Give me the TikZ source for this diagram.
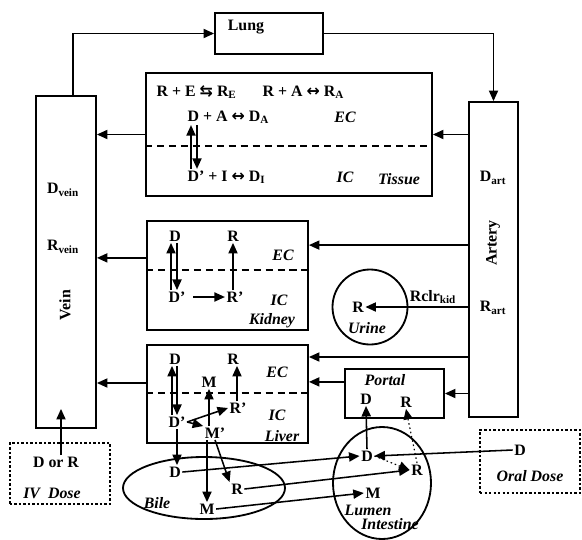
\documentclass[tikz,border=0pt]{standalone}
\usepackage{fontspec}
\setmainfont{Liberation Serif}
\newfontfamily\arrowfont{DejaVu Sans}
\usetikzlibrary{arrows.meta, positioning, shapes.geometric}

\begin{document}
\begin{tikzpicture}[
      x=0.25mm, y=-0.25mm,
      font=\fontsize{11.3}{13}\selectfont\bfseries,
      box/.style 2 args={draw, line width=1.3pt, minimum width=#1*0.25mm,
                         minimum height=#2*0.25mm, inner sep=0pt},
      dose/.style 2 args={box={#1}{#2}, line width=1.8pt, dash pattern=on 1.7pt off 1.5pt},
      pool/.style={draw, line width=1.3pt, inner sep=0pt},
      lbl/.style={inner sep=1pt},
      tag/.style={inner sep=1pt, font=\fontsize{11.3}{13}\selectfont\bfseries\itshape},
      arr/.style={-{Triangle[length=7.5pt, width=6.5pt]}, line width=1.1pt},
      dotarr/.style={arr, dotted, line width=0.8pt},
      split/.style={line width=1.3pt, dash pattern=on 5pt off 3.5pt},
    ]
    \useasboundingbox (0,0) rectangle (582,539);

    % compartments (coordinates in pixels of the 582x539 frame, y downwards)
    \node[box={108}{41}] (lung) at (269,33.5) {};
    \node[box={60}{332}] (vein) at (66,262) {};
    \node[box={49}{315}] (artery) at (493.5,259.5) {};
    \node[box={286}{123}] (tissue) at (289,134.5) {};
    \node[box={161}{109}] (kidney) at (227.5,275.5) {};
    \node[box={161}{98}] (liver) at (227.5,394) {};
    \node[box={99}{49}] (portal) at (394.5,393.5) {};
    \node[pool, circle, minimum size=75*0.25mm] (urine) at (370,307) {};
    \node[pool, ellipse, minimum width=162*0.25mm, minimum height=62*0.25mm] (bile) at (204,488) {};
    \node[pool, ellipse, minimum width=98*0.25mm, minimum height=112*0.25mm] (gut) at (382,483) {};
    \node[dose={100}{61}] (ivdose) at (60,473.5) {};
    \node[dose={100}{63}] (oraldose) at (530,461.5) {};

    % EC / IC border
    \foreach \c/\y in {tissue/146, kidney/270, liver/393}
      \draw[split] (\c.west |- 0,\y) -- (\c.east |- 0,\y);

    % names
    \node[lbl] (lungname) at (246,27) {Lung};
    \node[lbl] (dvein) at (63,190) {D\textsubscript{vein}};
    \node[lbl] (rvein) at (63,247) {R\textsubscript{vein}};
    \node[lbl, rotate=90] (veinname) at (65,305) {Vein};
    \node[lbl] (dart) at (493,178) {D\textsubscript{art}};
    \node[lbl, rotate=90] (arteryname) at (493,243) {Artery};
    \node[lbl] (rart) at (493,308) {R\textsubscript{art}};

    % tissue
    \node[lbl, anchor=west] (rexch) at (155,92) {R + E {\arrowfont ⇆} R\textsubscript{E}};
    \node[lbl, anchor=west] (ralb) at (261,92) {R + A {\arrowfont\bfseries ↔} R\textsubscript{A}};
    \node[lbl, anchor=west] (dalb) at (186,117) {D + A {\arrowfont\bfseries ↔} D\textsubscript{A}};
    \node[lbl, anchor=west] (dint) at (186,177) {D' + I {\arrowfont\bfseries ↔} D\textsubscript{I}};
    \node[tag] (tec) at (345,117) {EC};
    \node[tag] (tic) at (345,177) {IC};
    \node[tag] (tissuename) at (399,179) {Tissue};
    \draw[arr] ([xshift=1.25mm]dint.north west) -- ([xshift=1.25mm]dalb.south west);
    \draw[arr] ([xshift=2.75mm]dalb.south west) -- ([xshift=2.75mm]dint.north west);

    % kidney
    \node[lbl] (kd) at (175,236) {D};
    \node[lbl] (kr) at (233,236) {R};
    \node[lbl] (kdp) at (177,297) {D'};
    \node[lbl] (krp) at (235,297) {R'};
    \node[tag] (kec) at (283,255) {EC};
    \node[tag] (kic) at (279,300) {IC};
    \node[tag] (kidneyname) at (272,321) {Kidney};
    \draw[arr] ([xshift=-1mm]kd.south |- kdp.north) -- ([xshift=-1mm]kd.south);
    \draw[arr] ([xshift=0.5mm]kd.south) -- ([xshift=0.5mm]kd.south |- kdp.north);
    \draw[arr, shorten <=1.5mm] (kdp.east) -- (krp.west);
    \draw[arr] (kr.south |- krp.north) -- (kr.south);

    % urine
    \node[lbl] (ur) at (358,307) {R};
    \node[tag] (urinename) at (367,328) {Urine};
    \node[lbl] (rclr) at (433,297) {Rclr\textsubscript{kid}};
    \draw[arr] (artery.west |- ur.east) -- (ur.east);

    % liver
    \node[lbl] (ld) at (175,359) {D};
    \node[lbl] (lr) at (233,359) {R};
    \node[lbl] (lm) at (209,382) {M};
    \node[lbl] (ldp) at (177,422) {D'};
    \node[lbl, anchor=west] (lrp) at (228,408) {R'};
    \node[lbl] (lmp) at (215,433) {M'};
    \node[tag] (lec) at (277,372) {EC};
    \node[tag] (lic) at (277,415) {IC};
    \node[tag] (livername) at (282,436) {Liver};
    \draw[arr] ([xshift=-0.75mm]ld.south |- ldp.north) -- ([xshift=-0.75mm]ld.south);
    \draw[arr] ([xshift=0.5mm]ld.south) -- ([xshift=0.5mm]ld.south |- ldp.north);
    \draw[arr] (lm.south |- lmp.north) -- (lm.south);
    \draw[arr] ([xshift=1mm]lr.south |- lrp.north) -- ([xshift=1mm]lr.south);
    \draw[arr] (ldp.east) -- (lrp.west);
    \draw[arr] (ldp.east) -- (lmp.north west);

    % bile
    \node[lbl] (bd) at (175,472) {D};
    \node[lbl] (br) at (237,489) {R};
    \node[lbl] (bm) at (207,509) {M};
    \node[tag] (bilename) at (157,503) {Bile};
    \draw[arr] (ldp.south) -- (ldp.south |- bd.north);
    \draw[arr] (bm.north |- lmp.south) -- (bm.north);
    \draw[arr] (lmp.south) -- (br.north west);

    % lumen
    \node[lbl] (gd) at (367,456) {D};
    \node[lbl] (gr) at (417,470) {R};
    \node[lbl] (gm) at (373,493) {M};
    \node[tag] (lumenname) at (368,510) {Lumen};
    \node[tag] (intestinename) at (390,524) {Intestine};
    \draw[arr] (bd.east) -- (gd.west);
    \draw[arr] (br.east) -- (gr.west);
    \draw[arr] (bm.east) -- (gm.west);
    \draw[dotarr] (gd.east) -- (gr.west);

    % portal
    \node[tag] (portalname) at (385,380) {Portal};
    \node[lbl] (pd) at (366,399) {D};
    \node[lbl] (pr) at (406,402) {R};
    \draw[arr] (gd.north) -- (pd.south);
    \draw[dotarr] (gr.north) -- (pr.south);

    % doses
    \node[lbl] (od) at (520,450) {D};
    \node[tag] (oralname) at (530,476) {Oral Dose};
    \draw[arr] (od.west) -- (gd.east);
    \node[lbl] (ivd) at (56,462) {D or R};
    \node[tag] (ivname) at (52,493) {IV\ \ Dose};
    \draw[arr] ([xshift=1.25mm]ivd.north) -- ([xshift=1.25mm, yshift=5mm]ivd.north |- vein.south);

    % blood flow
    \draw[arr] ([xshift=1.75mm]vein.north) |- (lung.west);
    \draw[arr] (lung.east) -| (artery.north);
    \draw[arr] (artery.west |- tissue.east) -- (tissue.east);
    \draw[arr] (tissue.west) -- (vein.east |- tissue.west);
    \draw[arr] ([yshift=7.6mm]artery.west |- kidney.east) -- ([yshift=7.6mm]kidney.east);
    \draw[arr] ([yshift=4.4mm]kidney.west) -- ([yshift=4.4mm]vein.east |- kidney.west);
    \draw[arr] ([yshift=9.25mm]artery.west |- liver.east) -- ([yshift=9.25mm]liver.east);
    \draw[arr] ([yshift=2.9mm]portal.west) -- ([yshift=2.9mm]liver.east |- portal.west);
    \draw[arr] ([yshift=2.75mm]liver.west) -- ([yshift=2.75mm]vein.east |- liver.west);
    \draw[arr] (artery.west |- portal.east) -- (portal.east);
  \end{tikzpicture}
\end{document}
